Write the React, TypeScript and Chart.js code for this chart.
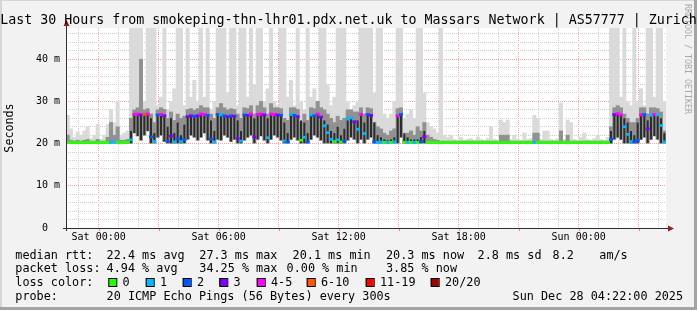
import React, { useEffect, useRef } from 'react';
import { Chart, registerables } from 'chart.js';

Chart.register(...registerables);

// ---------- data (10-minute slots, 30 hours, Fri 22:22 -> Sun 04:22) ----------
const START_HOUR = -(1 + 38 / 60); // hours relative to Sat 00:00
const STEP_HOURS = 1 / 6;
const END_HOUR = START_HOUR + 30;

const minRtt = [
  20.1, 20.1, 20.1, 20.1, 20.1, 20.1, 20.1, 20.1, 20.1, 20.1,
  20.1, 20.1, 20.1, 20.1, 20.1, 20.1, 20.1, 20.1, 20.1, 20.1,
  22.5, 21.8, 20.8, 22.0, 23.0, 20.1, 20.1, 21.5, 22.0, 20.5,
  20.1, 20.1, 20.1, 20.1, 20.1, 20.1, 21.0, 22.0, 21.5, 20.8,
  21.5, 22.5, 20.8, 20.1, 20.1, 21.0, 20.8, 22.0, 21.5, 20.5,
  21.0, 20.1, 20.1, 20.8, 21.5, 22.0, 20.1, 21.0, 21.8, 20.8,
  20.1, 21.0, 22.0, 21.5, 20.8, 20.1, 20.1, 21.0, 21.5, 20.8,
  20.1, 20.1, 20.1, 21.0, 22.0, 21.5, 20.8, 20.1, 20.1, 20.1,
  20.1, 20.1, 20.1, 20.1, 20.8, 21.5, 21.0, 20.1, 21.0, 20.1,
  21.0, 21.5, 20.1, 20.1, 20.1, 20.1, 20.1, 20.1, 20.1, 20.1,
  21.5, 20.1, 20.1, 20.1, 20.1, 20.1, 20.1, 20.1, 20.1, 20.1,
  20.1, 20.1, 20.1, 20.1, 20.1, 20.1, 20.1, 20.1, 20.1, 20.1,
  20.1, 20.1, 20.1, 20.1, 20.1, 20.1, 20.1, 20.1, 20.1, 20.1,
  20.1, 20.1, 20.1, 20.1, 20.1, 20.1, 20.1, 20.1, 20.1, 20.1,
  20.1, 20.1, 20.1, 20.1, 20.1, 20.1, 20.1, 20.1, 20.1, 20.1,
  20.1, 20.1, 20.1, 20.1, 20.1, 20.1, 20.1, 20.1, 20.1, 20.1,
  20.1, 20.1, 20.1, 20.1, 21.0, 21.5, 21.0, 20.1, 20.1, 20.1,
  20.1, 20.1, 21.0, 21.5, 20.1, 21.0, 21.8, 21.0, 20.1, 20.1,
];

const medianRtt = [
  20.3, 20.3, 20.2, 20.3, 20.3, 20.2, 20.3, 20.3, 20.3, 20.2,
  20.3, 20.3, 20.3, 20.4, 20.4, 20.3, 20.2, 20.3, 20.4, 20.9,
  26.9, 27.0, 26.8, 26.9, 27.0, 21.6, 20.5, 26.8, 26.9, 26.6,
  20.6, 21.8, 20.4, 21.2, 20.5, 20.9, 26.4, 26.6, 26.5, 26.6,
  27.0, 26.9, 26.7, 21.1, 20.4, 26.9, 26.8, 26.6, 26.4, 26.6,
  26.5, 21.2, 20.6, 26.8, 26.7, 27.0, 21.6, 26.9, 27.0, 26.8,
  21.4, 27.0, 26.9, 26.8, 26.7, 20.6, 20.4, 26.9, 26.7, 26.4,
  20.8, 21.5, 20.4, 26.8, 26.6, 27.0, 26.3, 24.2, 22.6, 21.0,
  20.5, 20.9, 20.4, 20.6, 25.8, 26.1, 25.2, 23.4, 26.9, 22.4,
  26.9, 26.7, 20.4, 20.3, 20.4, 20.3, 20.3, 20.3, 20.4, 26.6,
  26.9, 20.3, 20.3, 20.3, 20.3, 20.3, 20.5, 21.6, 20.3, 20.3,
  20.3, 20.3, 20.2, 20.3, 20.3, 20.3, 20.2, 20.3, 20.3, 20.3,
  20.3, 20.2, 20.3, 20.3, 20.3, 20.3, 20.3, 20.2, 20.3, 20.3,
  20.3, 20.3, 20.3, 20.2, 20.3, 20.3, 20.3, 20.3, 20.2, 20.3,
  20.3, 20.3, 20.3, 20.3, 20.3, 20.2, 20.3, 20.3, 20.3, 20.3,
  20.2, 20.3, 20.3, 20.3, 20.3, 20.3, 20.2, 20.3, 20.3, 20.3,
  20.3, 20.3, 20.3, 21.0, 26.9, 27.1, 26.8, 24.0, 22.2, 20.5,
  20.4, 20.8, 26.8, 26.9, 23.5, 26.7, 26.9, 26.8, 24.3, 20.4,
];

// index into lossLabels / lossColors
const lossBucket = [
  0, 0, 0, 0, 0, 0, 0, 0, 0, 0,
  0, 0, 0, 1, 1, 0, 0, 0, 0, 1,
  4, 4, 3, 5, 4, 2, 1, 2, 4, 3,
  2, 3, 1, 2, 1, 2, 3, 3, 2, 3,
  4, 4, 2, 2, 1, 2, 1, 2, 3, 2,
  3, 3, 1, 2, 3, 4, 3, 4, 4, 3,
  1, 4, 4, 3, 2, 1, 2, 1, 2, 3,
  0, 1, 2, 1, 2, 4, 3, 1, 1, 1,
  0, 1, 0, 2, 1, 1, 3, 1, 4, 1,
  2, 3, 2, 1, 1, 0, 1, 0, 1, 4,
  2, 0, 1, 0, 1, 0, 2, 3, 0, 0,
  0, 0, 0, 0, 0, 0, 0, 0, 0, 0,
  0, 0, 0, 0, 0, 0, 0, 0, 0, 0,
  0, 0, 0, 0, 0, 0, 0, 0, 0, 0,
  1, 0, 0, 0, 0, 0, 0, 0, 0, 0,
  0, 0, 0, 0, 0, 0, 0, 0, 0, 0,
  0, 0, 0, 2, 3, 4, 4, 1, 1, 1,
  2, 2, 4, 2, 3, 1, 4, 1, 1, 1,
];

// top of the dense (darkest) part of the smoke
const coreTop = [
  20.4, 20.4, 20.4, 20.4, 20.4, 20.4, 20.4, 20.4, 20.4, 20.4,
  20.4, 20.4, 20.4, 20.5, 20.5, 20.4, 20.4, 20.4, 20.5, 23.0,
  26.9, 27.0, 26.8, 26.9, 27.0, 26.0, 22.5, 26.8, 26.9, 26.6,
  24.0, 26.0, 22.5, 25.0, 22.0, 24.5, 26.4, 26.6, 26.5, 26.6,
  27.0, 26.9, 26.7, 25.5, 23.0, 26.9, 26.8, 26.6, 26.4, 26.6,
  26.5, 25.5, 23.0, 26.8, 26.7, 27.0, 26.0, 26.9, 27.0, 26.8,
  26.0, 27.0, 26.9, 26.8, 26.7, 25.0, 22.5, 26.9, 26.7, 26.4,
  25.5, 25.0, 22.5, 26.8, 26.6, 27.0, 26.3, 25.5, 24.5, 23.0,
  22.5, 24.0, 22.0, 23.5, 25.8, 26.1, 25.2, 25.5, 26.9, 25.0,
  26.9, 26.7, 25.0, 22.0, 21.5, 21.0, 20.8, 21.0, 21.5, 26.6,
  26.9, 22.5, 21.5, 21.0, 21.0, 21.0, 21.5, 23.0, 20.6, 20.4,
  20.4, 20.4, 20.4, 20.4, 20.4, 20.4, 20.4, 20.4, 20.4, 20.4,
  20.4, 20.4, 20.4, 20.4, 20.4, 20.4, 20.4, 20.4, 20.4, 20.4,
  20.4, 20.4, 20.4, 20.4, 20.4, 20.4, 20.4, 20.4, 20.4, 20.4,
  20.4, 20.4, 20.4, 20.4, 20.4, 20.4, 20.4, 20.4, 20.4, 20.4,
  20.4, 20.4, 20.4, 20.4, 20.4, 20.4, 20.4, 20.4, 20.4, 20.4,
  20.4, 20.4, 20.4, 23.0, 26.9, 27.1, 26.8, 26.0, 25.0, 23.0,
  22.0, 25.0, 26.8, 26.9, 25.5, 26.7, 26.9, 26.8, 26.0, 22.5,
];

// top of the medium-grey smoke
const midTop = [
  22.0, 20.8, 20.6, 20.8, 20.6, 20.8, 21.0, 20.6, 20.6, 21.0,
  20.6, 20.6, 21.5, 25.0, 22.0, 24.0, 20.8, 20.8, 21.0, 26.0,
  28.0, 28.5, 40.0, 28.0, 28.3, 27.0, 25.0, 28.0, 28.5, 28.1,
  26.0, 27.5, 25.5, 27.0, 26.0, 26.5, 28.1, 28.3, 27.9, 28.3,
  29.0, 28.5, 28.5, 27.0, 26.0, 28.5, 29.5, 28.5, 28.0, 28.3,
  28.1, 27.0, 26.0, 28.5, 28.3, 29.0, 27.0, 29.0, 30.0, 28.5,
  27.0, 29.5, 28.5, 28.5, 28.3, 26.0, 25.5, 28.5, 28.5, 28.1,
  25.0, 27.0, 25.5, 28.5, 28.3, 30.0, 28.5, 28.0, 27.0, 26.0,
  25.0, 26.5, 25.5, 26.0, 28.0, 28.0, 27.5, 27.5, 28.5, 27.0,
  28.5, 28.3, 25.0, 24.0, 23.5, 22.5, 22.0, 23.0, 23.5, 28.3,
  28.5, 22.0, 22.5, 23.0, 22.0, 24.0, 23.0, 25.0, 22.0, 21.5,
  21.0, 20.8, 20.6, 20.6, 20.6, 20.6, 20.6, 20.6, 20.6, 20.6,
  20.6, 20.6, 20.6, 20.6, 20.6, 20.6, 20.6, 20.6, 20.6, 20.6,
  22.0, 22.0, 22.0, 20.6, 20.6, 20.6, 20.6, 20.6, 20.6, 20.6,
  22.5, 22.5, 20.6, 20.6, 20.6, 20.6, 20.6, 20.6, 23.0, 20.6,
  22.0, 20.6, 20.6, 20.6, 20.6, 20.6, 20.6, 20.6, 20.6, 20.6,
  20.6, 20.6, 20.6, 24.0, 28.5, 29.0, 28.5, 27.0, 26.0, 25.0,
  25.0, 26.0, 28.5, 28.5, 27.0, 28.5, 28.5, 28.3, 27.5, 23.0,
];

// slowest ping of each slot (light smoke top)
const maxRtt = [
  26.7, 23.5, 21.5, 22.8, 22.0, 23.0, 24.0, 21.2, 22.0, 24.6,
  21.0, 22.0, 24.5, 28.0, 25.0, 30.0, 22.0, 22.5, 23.0, 48.0,
  48.0, 48.0, 48.0, 30.0, 48.0, 48.0, 48.0, 29.0, 31.0, 48.0,
  28.0, 30.0, 33.0, 48.0, 48.0, 29.0, 48.0, 31.0, 35.0, 30.0,
  48.0, 31.0, 48.0, 28.0, 30.0, 48.0, 48.0, 48.0, 32.0, 48.0,
  48.0, 29.0, 48.0, 48.0, 31.0, 48.0, 34.0, 48.0, 48.0, 30.0,
  33.0, 48.0, 30.0, 29.0, 48.0, 48.0, 31.0, 35.0, 29.0, 48.0,
  30.0, 28.0, 48.0, 31.0, 33.0, 30.0, 48.0, 48.0, 34.0, 29.0,
  31.0, 48.0, 48.0, 48.0, 30.0, 28.0, 29.0, 30.0, 48.0, 48.0,
  48.0, 48.0, 32.0, 48.0, 48.0, 27.0, 26.0, 27.0, 30.0, 48.0,
  48.0, 26.0, 27.0, 28.0, 26.0, 48.0, 48.0, 32.0, 25.0, 24.0,
  23.5, 22.5, 48.0, 22.0, 21.5, 22.0, 21.0, 20.8, 21.5, 20.8,
  21.0, 21.2, 20.8, 21.5, 21.0, 20.8, 21.2, 24.0, 21.0, 20.8,
  25.6, 25.0, 25.6, 21.0, 22.0, 21.0, 20.8, 22.5, 21.0, 21.2,
  26.7, 26.0, 21.0, 23.0, 23.0, 21.0, 20.8, 21.2, 29.6, 21.0,
  25.6, 25.0, 21.0, 20.8, 21.5, 22.5, 21.0, 20.8, 21.2, 22.0,
  21.0, 20.8, 21.5, 48.0, 48.0, 48.0, 31.0, 48.0, 30.0, 29.0,
  48.0, 30.0, 33.0, 29.0, 48.0, 48.0, 31.0, 48.0, 48.0, 30.0,
];

const lossLabels = ['0', '1', '2', '3', '4-5', '6-10', '11-19', '20/20'];
const lossColors = ['#26ff00', '#00b8ff', '#0059ff', '#7e00ff', '#ff00ff', '#ff5500', '#ff0000', '#a00000'];

const yMax = 47.4;
const yGridValues = [0, 2, 4, 6, 8, 10, 12, 14, 16, 18, 20, 22, 24, 26, 28, 30, 32, 34, 36, 38, 40, 42, 44, 46];
const xGridHours = [-1, 0, 1, 2, 3, 4, 5, 6, 7, 8, 9, 10, 11, 12, 13, 14, 15, 16, 17, 18, 19, 20, 21, 22, 23, 24, 25, 26, 27, 28];
const xLabelHours = [0, 6, 12, 18, 24];
const xLabelTexts = ['Sat 00:00', 'Sat 06:00', 'Sat 12:00', 'Sat 18:00', 'Sun 00:00'];

const titleText = 'Last 30 Hours from smokeping-thn-lhr01.pdx.net.uk to Massars Network | AS57777 | Zurich';
const yTitle = 'Seconds';
const watermark = 'RRDTOOL / TOBI OETIKER';
const medianRow = ['median rtt:', '22.4 ms avg', '27.3 ms max', '20.1 ms min', '20.3 ms now', '2.8 ms sd', '8.2', 'am/s'];
const lossRow = ['packet loss:', '4.94 % avg', '34.25 % max', '0.00 % min', '3.85 % now'];
const lossColorHead = 'loss color:';
const probeRow = ['probe:', '20 ICMP Echo Pings (56 Bytes) every 300s', 'Sun Dec 28 04:22:00 2025'];

// ---------- layout / style ----------
const MONO = "'DejaVu Sans Mono', monospace";
const LAYOUT = {
  medianX: [15.3, 106.6, 199.3, 292.6, 386.0, 477.6, 552.6, 599.3],
  lossX: [15.3, 106.6, 199.3, 286.6, 386.0],
  boxX: [108.3, 145.7, 182.7, 219.3, 256.7, 306.7, 365.7, 430.7],
  probeX: [15.3, 106.6, 512.6],
  rowY: [258.5, 272.3, 286.0, 299.7],
};

const slotHours = medianRtt.map((_, i) => START_HOUR + (i + 0.5) * STEP_HOURS);
const band = (lo: number[], hi: number[]) => slotHours.map((x, i) => ({ x, y: [lo[i], hi[i]] }));
const MEDIAN_HALF = 0.25;

const decorPlugin = {
  id: 'smokeDecor',
  beforeDraw(chart: any) {
    const { ctx, chartArea: a, width, height } = chart;
    ctx.save();
    ctx.fillStyle = '#f2f2f2';
    ctx.fillRect(0, 0, width, height);
    ctx.fillStyle = '#d6d6d6';
    ctx.fillRect(0, 0, width, 1);
    ctx.fillRect(0, 0, 2, height);
    ctx.fillStyle = '#a3a3a3';
    ctx.fillRect(0, height - 3, width, 3);
    ctx.fillRect(width - 3, 0, 3, height);
    ctx.fillStyle = '#ffffff';
    ctx.fillRect(a.left, a.top, a.right - a.left, a.bottom - a.top);
    ctx.restore();
  },
  afterDatasetsDraw(chart: any) {
    const { ctx, chartArea: a, scales } = chart;
    ctx.save();
    ctx.fillStyle = '#f08a8a';
    xGridHours.forEach((h) => {
      if (h % 3 === 0) {
        const px = Math.round(scales.x.getPixelForValue(h));
        ctx.fillRect(px, a.bottom + 1, 1, 2);
      }
    });
    ctx.strokeStyle = '#2f2f2f';
    ctx.lineWidth = 1;
    ctx.beginPath();
    ctx.moveTo(a.left - 3, a.bottom + 0.5);
    ctx.lineTo(a.right + 3, a.bottom + 0.5);
    ctx.moveTo(a.left + 0.5, a.bottom + 3);
    ctx.lineTo(a.left + 0.5, a.top - 4);
    ctx.stroke();
    ctx.fillStyle = '#951c1c';
    ctx.beginPath();
    ctx.moveTo(a.right + 8, a.bottom + 0.5);
    ctx.lineTo(a.right + 2, a.bottom - 2.5);
    ctx.lineTo(a.right + 2, a.bottom + 3.5);
    ctx.closePath();
    ctx.fill();
    ctx.beginPath();
    ctx.moveTo(a.left + 0.5, a.top - 8);
    ctx.lineTo(a.left - 2.5, a.top - 2);
    ctx.lineTo(a.left + 3.5, a.top - 2);
    ctx.closePath();
    ctx.fill();
    ctx.restore();
  },
  afterDraw(chart: any) {
    const { ctx, width } = chart;
    ctx.save();
    ctx.save();
    ctx.translate(686.7, 4);
    ctx.rotate(Math.PI / 2);
    ctx.font = `8.3px ${MONO}`;
    ctx.fillStyle = '#a8a8a8';
    ctx.textAlign = 'left';
    ctx.textBaseline = 'middle';
    ctx.fillText(watermark, 0, 0);
    ctx.restore();
    ctx.fillStyle = '#000';
    ctx.font = `13.3px ${MONO}`;
    ctx.textAlign = 'center';
    ctx.textBaseline = 'alphabetic';
    ctx.fillText(titleText, width / 2, 24);
    ctx.textAlign = 'left';
    ctx.font = `11.8px ${MONO}`;
    medianRow.forEach((t, i) => ctx.fillText(t, LAYOUT.medianX[i], LAYOUT.rowY[0]));
    lossRow.forEach((t, i) => ctx.fillText(t, LAYOUT.lossX[i], LAYOUT.rowY[1]));
    ctx.fillText(lossColorHead, LAYOUT.medianX[0], LAYOUT.rowY[2]);
    lossLabels.forEach((t, i) => {
      const bx = LAYOUT.boxX[i];
      ctx.fillStyle = lossColors[i];
      ctx.fillRect(bx, 278, 8, 8);
      ctx.strokeStyle = '#000';
      ctx.lineWidth = 1;
      ctx.strokeRect(bx + 0.5, 278.5, 8, 8);
      ctx.fillStyle = '#000';
      ctx.fillText(t, bx + 14.3, LAYOUT.rowY[2]);
    });
    probeRow.forEach((t, i) => ctx.fillText(t, LAYOUT.probeX[i], LAYOUT.rowY[3]));
    ctx.restore();
  },
};

export default function App() {
  const ref = useRef<HTMLCanvasElement | null>(null);

  useEffect(() => {
    document.body.style.margin = '0';
    const canvas = ref.current;
    if (!canvas) return;

    const common = { grouped: false, borderWidth: 0, barPercentage: 1, categoryPercentage: 1 };

    const chart = new Chart(canvas, {
      type: 'bar',
      data: {
        datasets: [
          {
            ...common,
            label: 'median rtt',
            order: 0,
            data: slotHours.map((x, i) => ({ x, y: [medianRtt[i] - MEDIAN_HALF, medianRtt[i] + MEDIAN_HALF] })),
            backgroundColor: lossBucket.map((b) => lossColors[b]),
          },
          {
            ...common,
            label: 'core',
            order: 1,
            barPercentage: 0.6,
            data: band(minRtt, coreTop),
            backgroundColor: '#2c2c2c',
          },
          {
            ...common,
            label: 'mid smoke',
            order: 2,
            data: band(minRtt, midTop),
            backgroundColor: '#919191',
          },
          {
            ...common,
            label: 'max smoke',
            order: 3,
            data: band(minRtt, maxRtt),
            backgroundColor: '#dadada',
          },
        ] as any,
      },
      options: {
        responsive: false,
        devicePixelRatio: 1,
        animation: false,
        layout: { padding: { top: 28, right: 31, bottom: 62, left: 0 } },
        plugins: { legend: { display: false }, tooltip: { enabled: false }, title: { display: false } },
        events: [],
        scales: {
          x: {
            type: 'linear',
            min: START_HOUR,
            max: END_HOUR,
            offset: false,
            afterBuildTicks: (scale: any) => {
              scale.ticks = xGridHours.map((v) => ({ value: v }));
            },
            afterFit: (scale: any) => {
              scale.height = 20;
            },
            grid: {
              offset: false,
              drawTicks: false,
              lineWidth: 1,
              color: (c: any) => (c.tick && c.tick.value % 3 === 0 ? '#f2a2a2' : '#cfcfcf'),
            },
            border: { display: false, dash: [1, 1] },
            ticks: {
              autoSkip: false,
              maxRotation: 0,
              padding: 3,
              color: '#000',
              font: { family: MONO, size: 10 },
              callback: (v: any) => {
                const k = xLabelHours.indexOf(Number(v));
                return k >= 0 ? xLabelTexts[k] : '';
              },
            },
          },
          y: {
            type: 'linear',
            min: 0,
            max: yMax,
            afterBuildTicks: (scale: any) => {
              scale.ticks = yGridValues.map((v) => ({ value: v }));
            },
            afterFit: (scale: any) => {
              scale.width = 66;
            },
            grid: {
              drawTicks: false,
              lineWidth: 1,
              color: (c: any) => (c.tick && c.tick.value % 10 === 0 ? '#f2a2a2' : '#cfcfcf'),
            },
            border: { display: false, dash: [1, 1] },
            title: {
              display: true,
              text: yTitle,
              color: '#000',
              font: { family: MONO, size: 11.7 },
              padding: { top: 3.3, bottom: 0 },
            },
            ticks: {
              autoSkip: false,
              padding: 6,
              color: '#000',
              font: { family: MONO, size: 10 },
              callback: (v: any) => {
                const n = Number(v);
                if (n % 10 !== 0) return '';
                return n === 0 ? '0  ' : `${n} m`;
              },
            },
          },
        },
      } as any,
      plugins: [decorPlugin],
    });

    return () => chart.destroy();
  }, []);

  return <canvas ref={ref} width={697} height={310} style={{ display: 'block', width: 697, height: 310 }} />;
}
